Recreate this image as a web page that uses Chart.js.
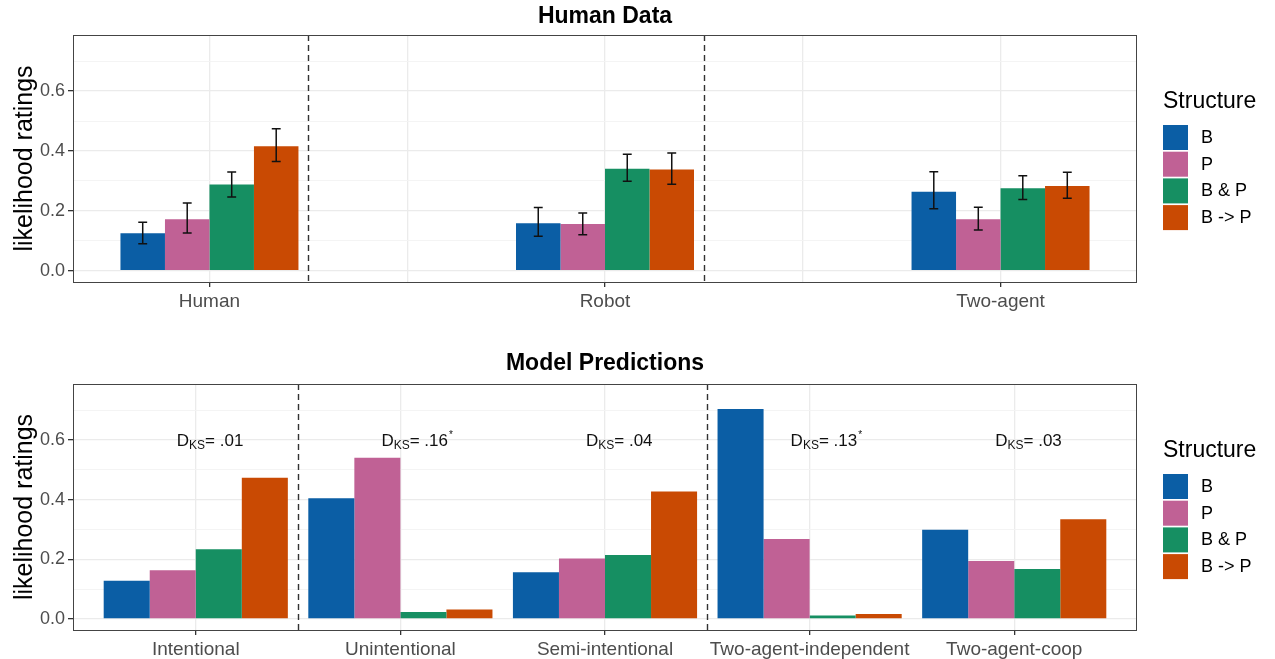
<!DOCTYPE html>
<html><head><meta charset="utf-8">
<script src="https://cdn.jsdelivr.net/npm/chart.js@4.4.1/dist/chart.umd.min.js"></script>
<style>
html,body{margin:0;padding:0;background:#fff;}
#wrap{position:relative;width:1275px;height:659px;overflow:hidden;}
canvas{position:absolute;left:0;display:block;}
#c1{top:0;}
#c2{top:330px;}
</style></head><body>
<div id="wrap">
<canvas id="c1" width="1275" height="330"></canvas>
<canvas id="c2" width="1275" height="329"></canvas>
</div>
<script>
// ---------- data ----------
const structures = ['B', 'P', 'B & P', 'B -> P'];
const structureColors = ['#0B5EA5', '#C06195', '#168F62', '#C94A03'];

// Human data panel (x slots 1..5, empty slots 2 and 4)
const humanTickLabels = ['Human', '', 'Robot', '', 'Two-agent'];
const humanCategories = ['Human', 'Robot', 'Two-agent'];
const humanB    = [0.125, 0.159, 0.264];
const humanP    = [0.172, 0.156, 0.172];
const humanBP   = [0.288, 0.341, 0.276];
const humanBtoP = [0.416, 0.338, 0.283];
const humanBLo    = [0.090, 0.115, 0.207], humanBHi    = [0.162, 0.211, 0.331];
const humanPLo    = [0.126, 0.120, 0.136], humanPHi    = [0.226, 0.193, 0.212];
const humanBPLo   = [0.246, 0.299, 0.238], humanBPHi   = [0.330, 0.389, 0.317];
const humanBtoPLo = [0.365, 0.289, 0.242], humanBtoPHi = [0.474, 0.393, 0.329];
const humanDividers = [1.5, 3.5];

// Model predictions panel
const modelCategories = ['Intentional', 'Unintentional', 'Semi-intentional', 'Two-agent-independent', 'Two-agent-coop'];
const modelB    = [0.128, 0.404, 0.156, 0.704, 0.299];
const modelP    = [0.163, 0.540, 0.202, 0.268, 0.194];
const modelBP   = [0.233, 0.023, 0.214, 0.011, 0.167];
const modelBtoP = [0.473, 0.031, 0.427, 0.016, 0.334];
const modelDKS  = ['.01', '.16', '.04', '.13', '.03'];
const modelDKSsig = [false, true, false, true, false];
const modelDKSy = 0.6;
const modelDividers = [1.5, 3.5];

// y axis
const yTickValues = [0, 0.1, 0.2, 0.3, 0.4, 0.5, 0.6, 0.7];
const yTickLabels = ['0.0', '', '0.2', '', '0.4', '', '0.6', ''];
const yMin = -0.0375, yMax = 0.7875;

// ---------- helpers ----------
const FAM = "'Liberation Sans', Arial, Helvetica, sans-serif";

const panelPlugin = {
  id: 'panelDecor',
  beforeDatasetsDraw(chart, args, opts) {
    const {ctx, chartArea: a, scales: {x}} = chart;
    ctx.save();
    ctx.strokeStyle = '#333';
    ctx.lineWidth = 1.4;
    ctx.setLineDash([6, 4]);
    (opts.dividers || []).forEach(v => {
      const px = Math.round(x.getPixelForValue(v)) + 0.5;
      ctx.beginPath();
      ctx.moveTo(px, a.top);
      ctx.lineTo(px, a.bottom);
      ctx.stroke();
    });
    ctx.restore();
  },
  afterDatasetsDraw(chart, args, opts) {
    const {ctx, chartArea: a, scales: {x, y}} = chart;
    ctx.save();
    // error bars
    if (opts.lo) {
      ctx.strokeStyle = '#111';
      ctx.lineWidth = 1.5;
      chart.data.datasets.forEach((ds, di) => {
        const meta = chart.getDatasetMeta(di);
        meta.data.forEach((bar, i) => {
          const lo = y.getPixelForValue(opts.lo[di][i]);
          const hi = y.getPixelForValue(opts.hi[di][i]);
          const hw = bar.width * 0.1;
          ctx.beginPath();
          ctx.moveTo(bar.x, lo); ctx.lineTo(bar.x, hi);
          ctx.moveTo(bar.x - hw, lo); ctx.lineTo(bar.x + hw, lo);
          ctx.moveTo(bar.x - hw, hi); ctx.lineTo(bar.x + hw, hi);
          ctx.stroke();
        });
      });
    }
    // D_KS annotations
    if (opts.dks) {
      ctx.fillStyle = '#111';
      ctx.textBaseline = 'alphabetic';
      ctx.textAlign = 'left';
      opts.dks.forEach((txt, i) => {
        let px = x.getPixelForValue(i + 1) - 19;
        const base = y.getPixelForValue(opts.dksY) + 6;
        ctx.font = '17px ' + FAM;
        ctx.fillText('D', px, base); px += ctx.measureText('D').width;
        ctx.font = '12px ' + FAM;
        ctx.fillText('KS', px, base + 3.5); px += ctx.measureText('KS').width;
        ctx.font = '17px ' + FAM;
        const rest = '= ' + txt;
        ctx.fillText(rest, px, base); px += ctx.measureText(rest).width;
        if (opts.sig[i]) {
          ctx.font = '10px ' + FAM;
          ctx.fillText('*', px + 1, base - 8);
        }
      });
    }
    // panel border
    ctx.strokeStyle = '#444';
    ctx.lineWidth = 1;
    ctx.setLineDash([]);
    ctx.strokeRect(Math.round(a.left) + 0.5, Math.round(a.top) + 0.5,
                   Math.round(a.right - a.left) - 1, Math.round(a.bottom - a.top));
    ctx.restore();
  },
  afterDraw(chart, args, opts) {
    const {ctx, chartArea: a} = chart;
    ctx.save();
    // panel title
    ctx.fillStyle = '#000';
    ctx.font = 'bold 23px ' + FAM;
    ctx.textAlign = 'center';
    ctx.textBaseline = 'alphabetic';
    ctx.fillText(opts.title, (a.left + a.right) / 2, opts.titleBaseline);
    // legend
    const x0 = a.right + 26;
    ctx.textAlign = 'left';
    ctx.font = '23px ' + FAM;
    ctx.fillText('Structure', x0, a.top + 73);
    ctx.font = '18px ' + FAM;
    ctx.textBaseline = 'middle';
    chart.data.datasets.forEach((ds, i) => {
      const ky = a.top + 90 + i * 26.7;
      ctx.fillStyle = ds.backgroundColor;
      ctx.fillRect(x0, ky, 25, 25);
      ctx.fillStyle = '#000';
      ctx.fillText(ds.label, x0 + 38, ky + 13);
    });
    ctx.restore();
  }
};

function yScale() {
  return {
    type: 'linear', min: yMin, max: yMax,
    afterBuildTicks: s => { s.ticks = yTickValues.map(v => ({value: v})); },
    afterFit: s => { s.width = 73; },
    ticks: {
      callback: (v, i) => yTickLabels[i],
      color: '#4D4D4D', font: {size: 18, family: FAM}, padding: 3, autoSkip: false
    },
    grid: {
      color: c => (yTickLabels[c.index] ? '#EBEBEB' : '#F3F3F3'),
      lineWidth: c => (yTickLabels[c.index] ? 1.3 : 0.9),
      tickLength: 5,
      tickColor: c => (yTickLabels[c.index] ? '#333' : 'rgba(0,0,0,0)')
    },
    border: {display: false},
    title: {display: true, text: 'likelihood ratings', color: '#000',
            font: {size: 25, family: FAM}, padding: {top: 10, bottom: 0}}
  };
}

function xScale(tickLabels, min, max, height) {
  return {
    type: 'linear', min: min, max: max, offset: false,
    afterBuildTicks: s => { s.ticks = tickLabels.map((_, i) => ({value: i + 1})); },
    afterFit: s => { s.height = height; },
    ticks: {
      callback: (v, i) => tickLabels[i] || '',
      color: '#4D4D4D', font: {size: 19, family: FAM}, padding: 3,
      autoSkip: false, maxRotation: 0, minRotation: 0
    },
    grid: {
      offset: false,
      color: '#EBEBEB', lineWidth: 1.3, tickLength: 5,
      tickColor: c => (tickLabels[c.index] ? '#333' : 'rgba(0,0,0,0)')
    },
    border: {display: false}
  };
}

function makeDatasets(series, cats, slotLabels) {
  return series.map((vals, si) => ({
    label: structures[si],
    backgroundColor: structureColors[si],
    borderWidth: 0,
    categoryPercentage: 0.9,
    barPercentage: 1.0,
    data: vals.map((v, i) => ({x: slotLabels.indexOf(cats[i]) + 1, y: v}))
  }));
}

Chart.defaults.font.family = FAM;
Chart.defaults.animation = false;

// ---------- top: Human Data ----------
new Chart(document.getElementById('c1'), {
  type: 'bar',
  data: {datasets: makeDatasets([humanB, humanP, humanBP, humanBtoP], humanCategories, humanTickLabels)},
  options: {
    responsive: false,
    animation: false,
    layout: {padding: {top: 35, right: 138, left: 0, bottom: 0}},
    scales: {x: xScale(humanTickLabels, 0.31, 5.69, 48), y: yScale()},
    plugins: {
      legend: {display: false}, tooltip: {enabled: false},
      panelDecor: {
        dividers: humanDividers,
        lo: [humanBLo, humanPLo, humanBPLo, humanBtoPLo],
        hi: [humanBHi, humanPHi, humanBPHi, humanBtoPHi],
        title: 'Human Data', titleBaseline: 23
      }
    }
  },
  plugins: [panelPlugin]
});

// ---------- bottom: Model Predictions ----------
new Chart(document.getElementById('c2'), {
  type: 'bar',
  data: {datasets: makeDatasets([modelB, modelP, modelBP, modelBtoP], modelCategories, modelCategories)},
  options: {
    responsive: false,
    animation: false,
    layout: {padding: {top: 54, right: 138, left: 0, bottom: 0}},
    scales: {x: xScale(modelCategories, 0.4, 5.6, 29), y: yScale()},
    plugins: {
      legend: {display: false}, tooltip: {enabled: false},
      panelDecor: {
        dividers: modelDividers,
        dks: modelDKS, sig: modelDKSsig, dksY: modelDKSy,
        title: 'Model Predictions', titleBaseline: 40
      }
    }
  },
  plugins: [panelPlugin]
});
</script>
</body></html>
